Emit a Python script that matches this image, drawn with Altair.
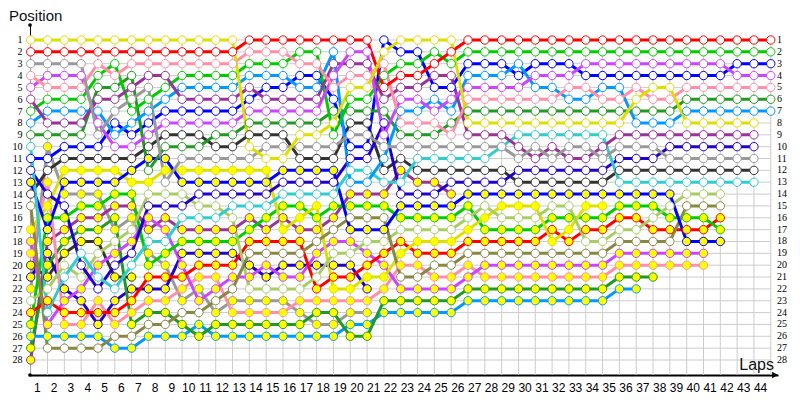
import altair as alt
import pandas as pd

lap_labels = list(range(1, 45))
rows = list(range(1, 29))

# ---- positions per driver, index = lap (0 = grid) ----
yellow_w = [1,1,1,1,1,1,1,1,1,1, 1,1,1,10,11,11,9,9,8,5, 5,2,1,1,1,1,8,8,8,8, 8,8,8,8,8,8,6,5,5,8, 8,8,8,8]
red_w = [2,2,2,2,2,2,2,2,2,2, 2,2,2,1,1,1,1,1,1,1, 1,5,4,4,3,2,1,1,1,1, 1,1,1,1,1,1,1,1,1,1, 1,1,1,1,1]
gray_w = [3,3,3,3,9,7,6,5,13,11, 11,11,11,11,10,10,10,10,10,9, 9,10,10,10,10,10,10,10,10,11, 10,11,10,10,11,10,10,10,11,11, 11,11,11,11]
pink_w = [4,5,5,5,3,4,3,3,3,3, 3,3,3,2,2,2,3,3,5,4, 4,3,8,8,8,9,6,6,6,6, 6,6,5,5,6,6,5,6,6,5, 5,5,5,5,5]
violet_w = [5,4,4,4,8,10,10,9,8,8, 8,8,8,7,7,7,7,7,4,2, 2,9,6,6,7,6,5,5,5,5, 4,4,4,3,3,3,3,3,3,3, 3,3,4,4,4]
purple_w = [6,8,8,8,6,6,5,4,4,6, 6,6,6,5,6,6,6,6,3,3, 3,6,5,5,4,4,9,9,9,10, 11,10,11,11,10,9,9,9,9,9, 9,9,9,9]
green_w = [7,6,6,6,4,3,7,6,5,4, 4,4,4,3,3,3,2,2,9,6, 6,4,3,3,2,3,2,2,2,2, 2,2,2,2,2,2,2,2,2,2, 2,2,2,2,2]
lightblue_w = [8,7,7,7,7,9,8,7,6,5, 5,5,5,4,4,4,5,5,2,13, 13,11,7,7,6,7,4,4,4,3, 5,5,6,6,5,5,8,8,8,7, 7,7,7,7,7]
darkgreen_w = [9,9,9,9,5,5,4,12,10,10, 10,9,9,8,8,8,8,8,7,7, 7,7,9,9,9,8,7,7,7,7, 7,7,7,7,7,7,7,7,7,6, 6,6,6,6,6]
cyan_w = [10,24,21,19,21,22,20,18,18,16, 16,16,15,15,15,14,14,14,14,12, 12,13,13,11,11,11,11,11,10,9, 9,9,9,9,9,13,13,13,13,13, 13,13,13,13]
blue_w = [11,11,10,10,10,8,9,8,7,7, 7,7,7,6,5,5,4,4,6,10, 10,1,2,2,5,5,3,3,3,4, 3,3,3,4,4,4,4,4,4,4, 4,4,3,3,3]
indigo_w = [12,14,15,20,22,20,19,15,15,15, 14,14,14,14,14,13,13,13,13,11, 11,8,14,14,14,13,13,13,13,12, 12,12,12,12,12,11,11,11,10,10, 10,10,10,10]
blue_y = [13,17,13,13,13,13,12,11,11,13, 13,13,13,13,13,12,12,12,12,17, 17,17,15,15,15,15,14,14,14,14, 14,14,14,14,14,14,14,14,14,18, 18,18]
black_w = [14,12,11,11,11,11,11,10,9,9, 9,10,10,9,9,9,11,11,11,8, 8,12,11,12,12,12,12,12,12,13, 13,13,13,13,13,12,12,12,12,12, 12,12,12,12]
olive_w = [15,27,27,27,27,26,26,25,25,24, 24,23,22,19,19,19,19,18,17,16, 16,16,21,21,20,20,19,19,19,19, 19,19,19,19,19,18,18,18,18,15, 15,15]
lightgreen_w = [23,22,20,21,19,18,17,14,14,14, 15,15,16,22,22,22,22,21,19,19, 18,18,17,17,17,17,16,15,16,16, 16,15,15,18,18,17,17,16,15,14, 14,14]
yellow_y = [17,15,12,12,12,12,13,13,12,12, 12,12,12,12,12,17,16,15,22,22, 21,21,19,18,18,18,17,16,15,15, 15,18,17,15,15]
green_y = [25,16,16,15,15,14,14,20,19,18, 18,18,18,17,16,15,15,16,15,15, 15,15,16,16,16,16,15,17,17,17, 17,16,16,16,16,15,15,15,16,16, 16,17]
red_y = [24,23,24,24,24,24,23,21,21,21, 20,20,20,18,18,18,18,22,21,21, 20,19,18,19,19,19,18,18,18,18, 18,17,18,17,17,16,16,17,17,17, 17,16]
violet_y = [18,25,23,22,20,19,18,16,17,20, 23,22,21,21,20,21,21,19,18,18, 19,20,22,22,22,22,21,20,20,20, 20,20,20,20,20,19,19,19,19,19, 19]
pink_y = [19,13,25,25,23,25,24,23,23,22, 21,21,24,24,24,24,23,23,23,23, 23,22,20,20,21,21,20,21,21,21, 21,21,21,21,21,20,20,20,20,20, 20]
darkgreen_y = [27,20,18,17,17,16,25,24,24,25, 26,25,25,25,25,25,25,24,24,26, 26,23,23,23,23,23,22,22,22,22, 22,22,22,22,22,21,21,21]
lightblue_y = [26,26,26,26,26,27,27,26,26,26, 25,26,26,26,26,26,26,26,26,25, 25,24,24,24,24,24,23,23,23,23, 23,23,23,23,23,22,22]
purple_y = [28,18,17,16,16,15,15,17,16,17, 17,17,17,16,17,16,17,17,16,14, 14,14,12,13,13,14]
indigo_y = [21,19,22,23,25,23,22,22,22,19, 19,19,19,20,21,20,20,20,20,20, 22]
black_y = [20,21,19,18,18,21,21]
gray_y = [22,10,14,14,14,17,16,19,20,23, 22,24,23,23,23,23,24,25,25,24, 24]

WHITE = "#ffffff"
YEL = "#ffff00"
series = [
    ("gray_y", gray_y, "#999999", YEL),
    ("black_y", black_y, "#333333", YEL),
    ("indigo_y", indigo_y, "#2200cc", YEL),
    ("purple_y", purple_y, "#993399", YEL),
    ("lightblue_y", lightblue_y, "#0099ff", YEL),
    ("darkgreen_y", darkgreen_y, "#229922", YEL),
    ("pink_y", pink_y, "#ff8fa8", YEL),
    ("violet_y", violet_y, "#cc44ff", YEL),
    ("red_y", red_y, "#ff0000", YEL),
    ("green_y", green_y, "#00cc00", YEL),
    ("yellow_y", yellow_y, "#dede00", YEL),
    ("lightgreen_w", lightgreen_w, "#aacc66", WHITE),
    ("olive_w", olive_w, "#888844", WHITE),
    ("black_w", black_w, "#333333", WHITE),
    ("blue_y", blue_y, "#0000ff", YEL),
    ("indigo_w", indigo_w, "#2200cc", WHITE),
    ("blue_w", blue_w, "#0000ff", WHITE),
    ("cyan_w", cyan_w, "#33cccc", WHITE),
    ("darkgreen_w", darkgreen_w, "#229922", WHITE),
    ("lightblue_w", lightblue_w, "#0099ff", WHITE),
    ("green_w", green_w, "#00cc00", WHITE),
    ("purple_w", purple_w, "#993399", WHITE),
    ("violet_w", violet_w, "#cc44ff", WHITE),
    ("pink_w", pink_w, "#ff8fa8", WHITE),
    ("gray_w", gray_w, "#999999", WHITE),
    ("red_w", red_w, "#ff0000", WHITE),
    ("yellow_w", yellow_w, "#dede00", WHITE),
]

recs = []
for k, (name, pos, col, fill) in enumerate(series):
    for lap, p in enumerate(pos):
        recs.append({"driver": name, "k": k, "lap": lap, "pos": p, "col": col, "fillc": fill})
df = pd.DataFrame(recs)

xs = alt.Scale(domain=[-0.0416, 44.43], nice=False, zero=False)
ys = alt.Scale(domain=[-0.2656, 29.266], nice=False, zero=False, reverse=True)

xaxis = alt.Axis(values=lap_labels, labelOffset=-10.7, ticks=False, grid=False,
                 domainColor="black", domainWidth=2, labelFont="Liberation Sans",
                 labelFontSize=12, labelColor="black", labelPadding=7,
                 labelOverlap=False, labelFlush=False, title=None)
yaxis = alt.Axis(values=rows, ticks=False, grid=False, domainColor="black",
                 domainWidth=1, labelFont="Liberation Serif", labelFontSize=10,
                 labelColor="black", labelPadding=8, labelOverlap=False,
                 labelFlush=False, title=None)

vgrid = pd.DataFrame({"lap": list(range(0, 45)), "top": [1] * 45, "bot": [29.266] * 45})
hgrid = pd.DataFrame({"pos": rows, "x0": [0] * 28, "x1": [44] * 28})

vg = alt.Chart(vgrid).mark_rule(color="#cccccc", strokeWidth=1).encode(
    x=alt.X("lap:Q", scale=xs, axis=xaxis),
    y=alt.Y("top:Q", scale=ys, axis=yaxis),
    y2="bot:Q",
)
hg = alt.Chart(hgrid).mark_rule(color="#cccccc", strokeWidth=1).encode(
    x=alt.X("x0:Q", scale=xs, axis=xaxis),
    x2="x1:Q",
    y=alt.Y("pos:Q", scale=ys, axis=yaxis),
)

lines = alt.Chart(df).mark_line(strokeWidth=3).encode(
    x=alt.X("lap:Q", scale=xs, axis=xaxis),
    y=alt.Y("pos:Q", scale=ys, axis=yaxis),
    color=alt.Color("col:N", scale=None),
    detail="driver:N",
    order="lap:Q",
)
points = alt.Chart(df).mark_point(filled=True, size=70, strokeWidth=1, opacity=1).encode(
    x=alt.X("lap:Q", scale=xs, axis=xaxis),
    y=alt.Y("pos:Q", scale=ys, axis=yaxis),
    fill=alt.Fill("fillc:N", scale=None),
    stroke=alt.Stroke("col:N", scale=None),
)

right_labels = alt.Chart(pd.DataFrame({"pos": rows})).mark_text(
    align="left", baseline="middle", font="Liberation Serif", fontSize=10, color="black"
).encode(x=alt.value(747), y=alt.Y("pos:Q", scale=ys, axis=yaxis), text="pos:Q")

one = pd.DataFrame({"a": [0]})
pos_title = alt.Chart(one).mark_text(
    text="Position", align="left", baseline="top", font="Liberation Sans",
    fontSize=15, color="#111111"
).encode(x=alt.value(-21), y=alt.value(-16))
laps_title = alt.Chart(one).mark_text(
    text="Laps", align="right", baseline="middle", font="Liberation Sans",
    fontSize=16, color="#111111"
).encode(x=alt.value(744), y=alt.value(340))
top_dot = alt.Chart(one).mark_point(filled=True, color="black", size=14, opacity=1).encode(
    x=alt.value(0), y=alt.value(0))
bot_dot = alt.Chart(one).mark_point(filled=True, color="black", size=14, opacity=1).encode(
    x=alt.value(0), y=alt.value(350))
arrow = alt.Chart(one).mark_point(shape="triangle-right", filled=True, color="black",
                                  size=45, opacity=1).encode(
    x=alt.value(745), y=alt.value(350))

chart = alt.layer(
    vg, hg, lines, points, right_labels, pos_title, laps_title, top_dot, bot_dot, arrow
).properties(
    width=748, height=350,
    padding={"left": 22, "top": 17, "right": 14, "bottom": 25},
    autosize=alt.AutoSizeParams(type="none"),
).configure_view(stroke=None)

chart.save("out.html", embed_options={"renderer": "svg", "actions": False})
